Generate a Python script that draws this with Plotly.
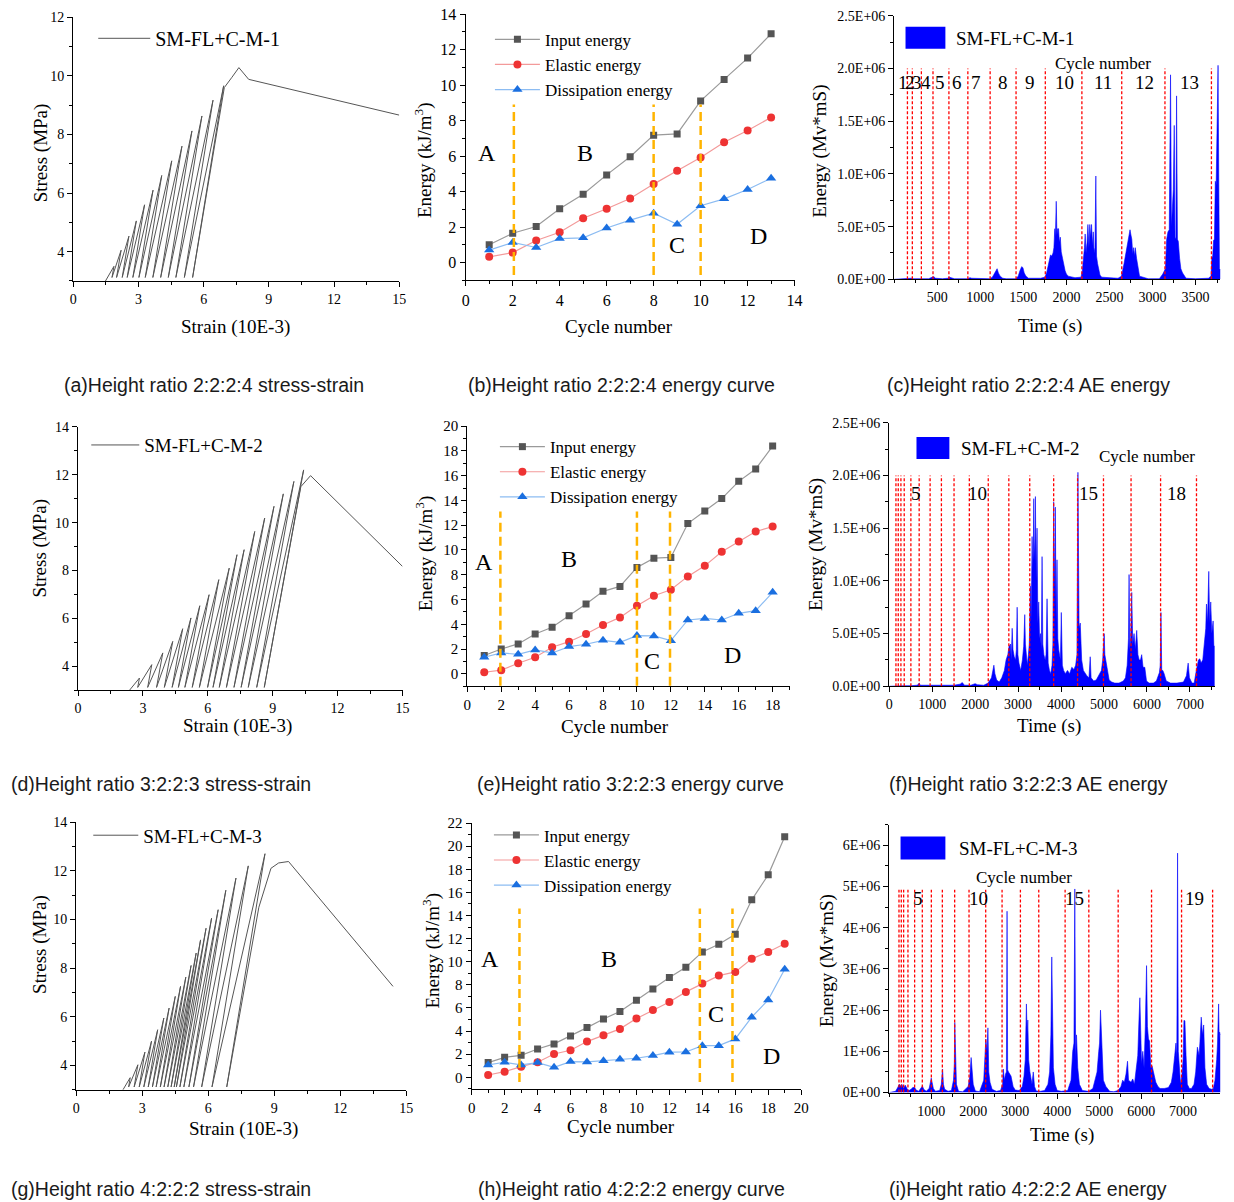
import numpy as np
import plotly.graph_objects as go

W, H = 1234, 1202
# small calibration of the photographed page (measured from previous renders)
AX, SX, AY, SY = 3.45, 0.9936, 7.2, 0.986
def fx(p): return ((p - AX) / SX) / W
def fy(p): return 1 - ((p - AY) / SY) / H

SERIF = "Liberation Serif, Times New Roman, serif"
CAP = "Liberation Sans Narrow, Arial Narrow, Liberation Sans, sans-serif"

# ---------------- stress-strain data (strain 10E-3, stress MPa) ----------------
ss1_valley = [1.48, 1.78, 1.99, 2.25, 2.48, 2.74, 3.02, 3.31, 3.66, 4.02, 4.37, 4.72, 5.11, 5.49]
ss1_peak_strain = [1.87, 2.2, 2.56, 2.9, 3.28, 3.67, 4.07, 4.53, 5.0, 5.46, 5.92, 6.43, 6.92]
ss1_peak_stress = [3.5, 4.05, 4.53, 5.05, 5.6, 6.1, 6.6, 7.1, 7.6, 8.12, 8.63, 9.17, 9.66]
ss1_tail_strain = [6.95, 7.3, 7.62, 8.07, 15.0]
ss1_tail_stress = [9.6, 9.95, 10.28, 9.88, 8.66]

ss2_valley = [2.38, 2.76, 3.22, 3.63, 3.99, 4.35, 4.64, 4.94, 5.28, 5.61, 5.99, 6.24, 6.53,
              6.86, 7.21, 7.54, 7.87, 8.26, 8.61]
ss2_peak_strain = [2.84, 3.41, 3.92, 4.38, 4.84, 5.22, 5.63, 6.06, 6.51, 6.99, 7.35, 7.68, 8.17,
                   8.63, 9.06, 9.49, 9.98, 10.43]
ss2_peak_stress = [3.51, 4.07, 4.56, 5.04, 5.57, 6.02, 6.53, 6.99, 7.62, 8.1, 8.66, 8.87, 9.63,
                   10.19, 10.68, 11.2, 11.72, 12.2]
ss2_tail_strain = [10.3, 10.75, 15.0]
ss2_tail_stress = [11.5, 11.96, 8.17]

ss3_valley = [2.12, 2.38, 2.63, 2.86, 3.07, 3.27, 3.46, 3.63, 3.82, 3.99, 4.16, 4.31, 4.45, 4.55,
              4.71, 4.89, 5.12, 5.33, 5.70, 6.17, 6.84]
ss3_peak_strain = [2.45, 2.8, 3.12, 3.42, 3.7, 3.98, 4.22, 4.5, 4.74, 4.98, 5.22, 5.45, 5.65, 5.9,
                   6.15, 6.45, 6.8, 7.26, 7.82, 8.58]
ss3_peak_stress = [3.5, 4.03, 4.55, 5.0, 5.47, 5.95, 6.36, 6.84, 7.25, 7.63, 8.11, 8.62, 9.16, 9.64,
                   10.05, 10.4, 11.2, 11.7, 12.2, 12.7]
ss3_tail_strain = [8.3, 8.85, 9.2, 9.65, 14.4]
ss3_tail_stress = [10.5, 12.1, 12.32, 12.38, 7.25]

# ---------------- energy curves (kJ/m3) ----------------
b_cycle = list(range(1, 14))
b_input = [1.0, 1.65, 2.03, 3.03, 3.85, 4.94, 5.96, 7.18, 7.25, 9.11, 10.32, 11.52, 12.89]
b_elastic = [0.32, 0.56, 1.24, 1.71, 2.5, 3.03, 3.61, 4.42, 5.17, 5.92, 6.78, 7.44, 8.18]
b_dissip = [0.7, 1.13, 0.85, 1.35, 1.39, 1.95, 2.39, 2.78, 2.16, 3.2, 3.59, 4.12, 4.75]
b_stage_x = [2.05, 8.0, 10.0]
stage_labels = ["A", "B", "C", "D"]
b_label_x = [0.92, 5.09, 8.98, 12.45]
b_label_y = [6.2, 6.2, 1.0, 1.5]

e_cycle = list(range(1, 19))
e_input = [1.48, 2.01, 2.42, 3.22, 3.76, 4.7, 5.64, 6.66, 7.06, 8.59, 9.34, 9.4, 12.13, 13.15,
           14.15, 15.54, 16.54, 18.39]
e_elastic = [0.13, 0.3, 0.86, 1.34, 2.15, 2.6, 3.22, 3.95, 4.56, 5.5, 6.31, 6.79, 7.87, 8.72,
             9.85, 10.68, 11.49, 11.89]
e_dissip = [1.34, 1.69, 1.58, 1.93, 1.69, 2.2, 2.39, 2.71, 2.55, 3.09, 3.06, 2.68, 4.35, 4.48,
            4.35, 4.89, 5.1, 6.58]
e_stage_x = [1.95, 10.0, 11.95]
e_label_x = [0.98, 5.97, 10.86, 15.66]
e_label_y = [9.0, 9.3, 1.07, 1.53]

h_cycle = list(range(1, 20))
h_input = [1.27, 1.73, 1.9, 2.45, 2.89, 3.58, 4.3, 5.05, 5.69, 6.67, 7.65, 8.63, 9.53, 10.85,
           11.52, 12.38, 15.36, 17.52, 20.81]
h_elastic = [0.2, 0.49, 0.92, 1.3, 2.02, 2.34, 3.09, 3.64, 4.19, 5.08, 5.83, 6.52, 7.39, 8.11,
             8.8, 9.12, 10.25, 10.85, 11.55]
h_dissip = [1.07, 1.3, 1.07, 1.27, 0.87, 1.36, 1.33, 1.44, 1.56, 1.65, 1.88, 2.17, 2.19, 2.74,
            2.74, 3.32, 5.2, 6.7, 9.35]
h_stage_x = [2.9, 13.85, 15.83]
h_label_x = [1.1, 8.35, 14.86, 18.19]
h_label_y = [10.2, 10.2, 5.5, 1.85]

# ---------------- AE energy (time s, energy in 1E+05 Mv*mS) ----------------
ae1_t = [0, 100, 150, 160, 200, 215, 300, 320, 400, 440, 460, 480,
         560, 620, 640, 660, 700, 850, 880, 900, 950, 1000,
         1110, 1140, 1160, 1180, 1195, 1210, 1230, 1260, 1300,
         1410, 1440, 1460, 1480, 1495, 1510, 1530, 1560, 1700,
         1750, 1770, 1790, 1805, 1815, 1830, 1845, 1855, 1865, 1872,
         1882, 1890, 1898, 1909, 1918, 1929, 1940, 1955, 1970, 1985, 2000, 2020,
         2100, 2170, 2185, 2200, 2210, 2218, 2228, 2240, 2250, 2262,
         2272, 2282, 2292, 2302, 2312, 2322, 2332, 2342, 2350, 2362, 2375, 2390, 2410,
         2500, 2520, 2600, 2640, 2655, 2670, 2685, 2700, 2712, 2725,
         2739, 2750, 2760, 2770, 2780, 2790, 2800, 2815, 2830, 2850, 2950,
         3080, 3120, 3150, 3165, 3180, 3195, 3210, 3220, 3232, 3242,
         3253, 3262, 3272, 3280, 3290, 3300, 3315, 3330, 3350, 3370, 3390,
         3500, 3650, 3680, 3690, 3700, 3710, 3720, 3730, 3740, 3750, 3762, 3770, 3778, 3790]
ae1_e = [0, 0.05, 0.1, 0.05, 0.1, 0.05, 0.05, 0.1, 0.05, 0.2, 0.25, 0.1,
         0.05, 0.1, 0.2, 0.15, 0.05, 0.05, 0.15, 0.1, 0.1, 0.05,
         0.05, 0.2, 0.5, 0.9, 1.0, 0.6, 0.3, 0.1, 0.05,
         0.05, 0.3, 0.8, 1.2, 1.1, 0.6, 0.3, 0.1, 0.1,
         0.2, 0.6, 1.5, 2.0, 2.3, 2.2, 2.5, 3.0, 4.8, 4.0,
         7.4, 4.2, 4.8, 4.8, 3.5, 4.0, 2.6, 2.0, 1.3, 0.8, 0.5, 0.3,
         0.15, 0.2, 0.8, 2.0, 3.0, 4.3, 2.5, 3.5, 5.2, 3.0,
         5.2, 4.0, 5.2, 3.2, 4.5, 2.5, 3.0, 9.8, 2.2, 1.5, 0.8, 0.4, 0.2,
         0.15, 0.2, 0.1, 0.3, 0.8, 1.5, 2.2, 2.8, 3.5, 4.0,
         4.7, 4.2, 3.8, 2.4, 3.0, 2.2, 3.0, 2.0, 1.3, 0.3, 0.05,
         0.05, 0.5, 1.0, 3.8, 4.5, 4.7, 19.4, 5.0, 7.0, 8.5,
         14.6, 4.0, 3.8, 17.4, 3.8, 3.6, 2.0, 1.0, 0.6, 0.3, 0.1,
         0.05, 0.1, 0.3, 2.0, 2.2, 3.7, 3.8, 9.3, 9.0, 13.0, 20.3, 10.0, 1.0, 0.9]
ae1_cycle_lines = [153, 210, 315, 450, 635, 855, 1114, 1415, 1755, 2180, 2643, 3145, 3685]
ae1_labels = ["1", "2", "3", "4", "5", "6", "7", "8", "9", "10", "11", "12", "13"]
ae1_label_t = [106, 187, 268, 365, 535, 732, 952, 1261, 1581, 1979, 2423, 2905, 3434]

ae2_t = [0, 150, 300, 500, 650, 700, 720, 900, 1200, 1500, 1650, 1700, 1750,
         1900, 2000, 2050, 2200, 2300, 2380, 2420, 2436, 2460, 2500, 2560,
         2620, 2680, 2720, 2760, 2790, 2823, 2840, 2862, 2880, 2910, 2940, 2960, 2978, 2995, 3020,
         3060, 3100, 3130, 3155, 3170, 3190, 3215, 3240, 3260, 3287, 3300, 3315, 3326, 3340,
         3355, 3364, 3380, 3395, 3403, 3420, 3441,
         3460, 3480, 3500, 3520, 3540, 3558, 3575, 3600, 3630, 3650, 3674, 3700, 3730, 3760, 3790,
         3810, 3828, 3845, 3867, 3885, 3906, 3925, 3945, 3965, 3985, 4006, 4030, 4060, 4100,
         4150, 4200, 4250, 4300, 4340, 4370, 4393, 4405, 4420, 4447, 4480, 4520, 4560, 4600,
         4650, 4679, 4700, 4760, 4820, 4880, 4940,
         4970, 4990, 5004, 5020, 5040, 5060, 5090, 5120, 5180, 5250, 5350, 5450, 5500,
         5540, 5570, 5584, 5600, 5620, 5646, 5670, 5700, 5730, 5762, 5790, 5820, 5850, 5878,
         5910, 5950, 5990, 6050,
         6150, 6220, 6260, 6290, 6310, 6326, 6345, 6370, 6400, 6450, 6550, 6700, 6850, 6920,
         6960, 6990, 7050,
         7100, 7150, 7200, 7231, 7260, 7300, 7340, 7370, 7386, 7410, 7440, 7460, 7486, 7510,
         7541, 7560, 7580]
ae2_e = [0, 0.05, 0.05, 0.05, 0.1, 0.3, 0.1, 0.1, 0.1, 0.1, 0.2, 0.35, 0.1,
         0.1, 0.25, 0.15, 0.1, 0.3, 0.8, 1.5, 2.0, 1.2, 0.6, 0.4,
         0.8, 1.5, 2.5, 3.0, 3.8, 4.0, 2.5, 5.5, 3.5, 2.8, 2.5, 3.5, 7.5, 3.0, 2.2,
         1.5, 2.5, 3.8, 6.8, 4.0, 3.0, 2.0, 3.0, 4.0, 9.5, 6.0, 10.0, 14.2, 11.0,
         13.0, 17.8, 12.0, 14.0, 18.0, 10.0, 15.0,
         6.0, 8.0, 4.5, 5.0, 3.5, 12.3, 4.0, 3.0, 2.5, 3.0, 8.3, 2.2, 1.5, 1.2, 2.0,
         4.0, 17.5, 9.0, 17.0, 6.0, 12.0, 4.5, 3.5, 3.0, 2.5, 7.0, 2.0, 1.5, 1.2,
         1.5, 1.2, 1.8, 1.6, 2.0, 3.0, 20.3, 6.0, 5.5, 6.0, 2.5, 1.5, 1.2, 1.0,
         0.8, 2.8, 0.8, 0.5, 0.6, 1.0, 1.5,
         2.5, 3.5, 5.0, 3.0, 2.5, 2.0, 1.2, 0.6, 0.4, 0.3, 0.3, 0.5, 0.8,
         2.0, 4.5, 10.6, 3.5, 4.5, 8.9, 4.0, 5.0, 3.5, 5.3, 3.0, 2.5, 2.5, 3.0,
         1.8, 1.8, 0.5, 0.3,
         0.3, 0.5, 1.0, 1.3, 2.0, 7.0, 1.5, 1.5, 1.2, 0.5, 0.3, 0.3, 0.4, 1.0,
         2.2, 0.8, 0.3,
         0.3, 1.5, 2.5, 2.6, 2.2, 2.5, 4.5, 5.5, 7.8, 6.0, 10.9, 6.0, 8.0, 5.0,
         6.2, 3.8, 3.8]
ae2_cycle_lines = [155, 209, 271, 348, 503, 696, 951, 1214, 1508, 1864, 2305, 2784, 3271,
                   3828, 4385, 4988, 5630, 6318, 7154]
ae2_labels = ["5", "10", "15", "18"]
ae2_label_t = [619, 2049, 4640, 6690]

ae3_t = [0, 150, 200, 240, 280, 300, 340, 380, 430, 470, 520, 560, 600, 640, 700, 760, 790, 820, 880,
         950, 980, 1000, 1020, 1050, 1100, 1200, 1240, 1270, 1290, 1320, 1400, 1480, 1530, 1550,
         1560, 1575, 1600, 1650,
         1750, 1880, 1920, 1950, 1975, 2000, 2050, 2150, 2250, 2300, 2330, 2350, 2370, 2400, 2450, 2550,
         2650, 2700, 2718, 2740, 2770, 2790, 2806, 2820, 2840, 2870, 2900, 2950, 3000, 3100,
         3170, 3210, 3240, 3267, 3285, 3300, 3320, 3350, 3400, 3430, 3460, 3500, 3600, 3700,
         3780, 3820, 3850, 3871, 3890, 3910, 3950, 4000,
         4100, 4250, 4330, 4370, 4400, 4420, 4440, 4460, 4490, 4530, 4600, 4750, 4850, 4950,
         4990, 5010, 5032, 5050, 5070, 5100, 5160, 5250,
         5350, 5450, 5520, 5560, 5600, 5640, 5676, 5700, 5760, 5800, 5840, 5880, 5920, 5950,
         5970, 5990, 6010, 6040,
         6070, 6100, 6129, 6150, 6175, 6200, 6230, 6260, 6300, 6350, 6400, 6450, 6550, 6650,
         6720, 6760, 6800, 6830, 6850, 6868, 6885, 6910,
         6940, 6970, 7000, 7020, 7043, 7070, 7100, 7150, 7200, 7260, 7300, 7340, 7380, 7400,
         7432, 7460, 7490, 7520, 7560, 7620, 7680,
         7720, 7760, 7800, 7820, 7846, 7860, 7870, 7890]
ae3_e = [0, 0.3, 1.2, 2.0, 1.5, 2.0, 1.0, 1.8, 0.8, 0.5, 0.8, 1.2, 1.3, 0.6, 0.3, 1.0, 1.6, 0.8, 0.3,
         1.0, 2.5, 3.5, 2.5, 1.0, 0.3, 0.5, 2.0, 5.7, 2.0, 0.8, 0.3, 0.5, 3.0, 7.0,
         17.0, 7.0, 2.0, 0.3,
         0.2, 1.5, 4.0, 8.5, 4.0, 2.0, 0.4, 0.2, 3.0, 13.0, 10.0, 15.7, 5.0, 2.5, 0.8, 0.3,
         0.5, 2.0, 5.7, 3.0, 4.5, 5.0, 44.0, 5.5, 5.0, 4.5, 4.0, 1.5, 0.6, 0.5,
         1.5, 4.0, 8.0, 21.5, 14.0, 17.6, 8.0, 5.0, 2.0, 5.0, 1.5, 0.4, 0.3, 0.5,
         2.0, 5.0, 14.0, 32.9, 14.0, 6.0, 2.0, 0.5,
         0.3, 0.5, 3.0, 10.0, 12.0, 49.4, 8.0, 14.0, 6.0, 2.0, 0.5, 0.3, 1.0, 5.0,
         10.0, 12.0, 20.0, 15.0, 8.0, 3.0, 1.5, 0.3,
         0.2, 0.5, 1.5, 3.0, 2.5, 4.5, 7.6, 3.0, 2.5, 3.3, 2.0, 5.0, 9.0, 18.0,
         23.0, 15.0, 7.0, 10.0,
         6.0, 16.0, 30.8, 16.0, 13.0, 12.5, 6.0, 6.5, 5.0, 2.5, 1.5, 1.0, 1.0, 1.2,
         2.5, 5.0, 9.0, 12.0, 8.0, 58.1, 10.0, 5.0,
         2.0, 4.0, 8.0, 17.5, 17.4, 9.0, 2.0, 1.0, 1.0, 2.0, 5.0, 11.0, 9.0, 12.0,
         18.3, 14.0, 16.4, 6.0, 2.0, 1.0, 0.8,
         1.0, 3.0, 8.0, 12.0, 21.5, 13.0, 14.7, 14.0]
ae3_cycle_lines = [231, 286, 342, 445, 604, 787, 1002, 1264, 1558, 1900, 2297, 2687, 3124,
                   3561, 4189, 4754, 5453, 6248, 6963, 7703]
ae3_labels = ["5", "10", "15", "19"]
ae3_label_t = [684, 2114, 4420, 7281]

ae_tick_vals_12 = [0, 5e5, 1e6, 1.5e6, 2e6, 2.5e6]
ae_tick_text_12 = ["0.0E+00", "5.0E+05", "1.0E+06", "1.5E+06", "2.0E+06", "2.5E+06"]
ae_tick_vals_3 = [0, 1e6, 2e6, 3e6, 4e6, 5e6, 6e6]
ae_tick_text_3 = ["0E+00", "1E+06", "2E+06", "3E+06", "4E+06", "5E+06", "6E+06"]

specimens = ["SM-FL+C-M-1", "SM-FL+C-M-2", "SM-FL+C-M-3"]
captions = ["(a)Height ratio 2:2:2:4 stress-strain", "(b)Height ratio 2:2:2:4 energy curve",
            "(c)Height ratio 2:2:2:4 AE energy",
            "(d)Height ratio 3:2:2:3 stress-strain", "(e)Height ratio 3:2:2:3 energy curve",
            "(f)Height ratio 3:2:2:3 AE energy",
            "(g)Height ratio 4:2:2:2 stress-strain", "(h)Height ratio 4:2:2:2 energy curve",
            "(i)Height ratio 4:2:2:2 AE energy"]

# ---------------- layout geometry (target screen pixels) ----------------
boxes = {1: (73, 400, 16.4, 280), 2: (466.7, 796.7, 13.3, 279.3), 3: (896.7, 1224, 15, 278.3),
         4: (77.7, 403.3, 425.7, 689), 5: (468.3, 791.7, 425, 685), 6: (891.7, 1218.3, 421.7, 685),
         7: (76, 407, 820.7, 1088.3), 8: (472.7, 803.3, 821.7, 1087.3), 9: (891.7, 1224, 823.3, 1091)}

fig = go.Figure()

def sfx(i):
    return "" if i == 1 else str(i)

def base_axis(size):
    return dict(showline=True, linecolor="black", linewidth=1.3, ticks="outside", ticklen=5,
                tickwidth=1.2, tickcolor="black", showgrid=False, zeroline=False,
                tickfont=dict(family=SERIF, size=size, color="black"))

def set_axes(i, xr, yr, xt, xminor, yt, ymin, yt_text=None, fsize=14):
    l, r, t, b = boxes[i]
    s = sfx(i)
    xa = base_axis(fsize)
    xa.update(domain=[max(0, fx(l)), min(1, fx(r))], range=xr, anchor="y" + s, tickmode="array",
              tickvals=xt,
              minor=dict(dtick=xminor, ticks="outside", ticklen=3, tickcolor="black", tickwidth=1))
    ya = base_axis(fsize)
    ya.update(domain=[max(0, fy(b)), min(1, fy(t))], range=yr, anchor="x" + s, tickmode="array",
              tickvals=yt,
              minor=dict(dtick=ymin, ticks="outside", ticklen=3, tickcolor="black", tickwidth=1))
    if yt_text is not None:
        ya["ticktext"] = yt_text
    fig.update_layout(**{"xaxis" + s: xa, "yaxis" + s: ya})

set_axes(1, [0, 15], [3, 12], [0, 3, 6, 9, 12, 15], 1.5, [4, 6, 8, 10, 12], 1)
set_axes(4, [0, 15], [3, 14], [0, 3, 6, 9, 12, 15], 1.5, [4, 6, 8, 10, 12, 14], 1)
set_axes(7, [0, 15], [3, 14], [0, 3, 6, 9, 12, 15], 1.5, [4, 6, 8, 10, 12, 14], 1)
set_axes(2, [0, 14], [-1, 14], list(range(0, 15, 2)), 1, list(range(0, 15, 2)), 1, fsize=16)
set_axes(5, [0, 19], [-1, 20], list(range(0, 19, 2)), 1, list(range(0, 21, 2)), 1, fsize=15)
set_axes(8, [0, 20], [-1, 22], list(range(0, 21, 2)), 1, list(range(0, 23, 2)), 1, fsize=15)
set_axes(3, [0, 3790], [0, 2.5e6], list(range(500, 3501, 500)), 250, ae_tick_vals_12, 2.5e5,
         yt_text=ae_tick_text_12, fsize=14)
set_axes(6, [0, 7580], [0, 2.5e6], list(range(0, 7001, 1000)), 500, ae_tick_vals_12, 2.5e5,
         yt_text=ae_tick_text_12, fsize=14)
set_axes(9, [0, 7890], [0, 6.5e6], list(range(1000, 7001, 1000)), 500, ae_tick_vals_3, 5e5,
         yt_text=ae_tick_text_3, fsize=14)

# ---------------- stress-strain traces (valley -> peak -> valley zig-zag) ----------------
def ss_path(valley, pk_x, pk_y, tail_x, tail_y, start_y=3.0, base_y=3.12):
    xs, ys = [valley[0]], [start_y]
    for k in range(len(pk_x)):
        xs.append(pk_x[k]); ys.append(pk_y[k])
        xs.append(valley[k + 1]); ys.append(base_y)
    return xs + list(tail_x), ys + list(tail_y)

ss_sets = [(1, "legend", ss1_valley, ss1_peak_strain, ss1_peak_stress, ss1_tail_strain, ss1_tail_stress),
           (4, "legend3", ss2_valley, ss2_peak_strain, ss2_peak_stress, ss2_tail_strain, ss2_tail_stress),
           (7, "legend5", ss3_valley, ss3_peak_strain, ss3_peak_stress, ss3_tail_strain, ss3_tail_stress)]
for n, (i, lg, v, px_, py_, tx, ty) in enumerate(ss_sets):
    xs, ys = ss_path(v, px_, py_, tx, ty)
    fig.add_trace(go.Scatter(x=xs, y=ys, mode="lines", name=specimens[n], legend=lg,
                             line=dict(color="#555555", width=1),
                             xaxis="x" + sfx(i), yaxis="y" + sfx(i)))

# ---------------- energy traces ----------------
series_style = [("Input energy", "#9a9a9a", "#555555", "square", 7),
                ("Elastic energy", "#f39a9a", "#ee3333", "circle", 8),
                ("Dissipation energy", "#8cbcf2", "#1a6fe0", "triangle-up", 9)]
en_sets = [(2, "legend2", b_cycle, [b_input, b_elastic, b_dissip], b_stage_x, 8.9, -0.7,
            b_label_x, b_label_y),
           (5, "legend4", e_cycle, [e_input, e_elastic, e_dissip], e_stage_x, 13.1, -0.95,
            e_label_x, e_label_y),
           (8, "legend6", h_cycle, [h_input, h_elastic, h_dissip], h_stage_x, 14.6, -0.4,
            h_label_x, h_label_y)]
for (i, lg, cyc, ser, stx, top, bot, lx, ly) in en_sets:
    s = sfx(i)
    for (name, lc, mc, sym, ms), vals in zip(series_style, ser):
        fig.add_trace(go.Scatter(x=cyc, y=vals, mode="lines+markers", name=name, legend=lg,
                                 line=dict(color=lc, width=1.2),
                                 marker=dict(color=mc, symbol=sym, size=ms),
                                 xaxis="x" + s, yaxis="y" + s))
    for xv in stx:
        fig.add_shape(type="line", xref="x" + s, yref="y" + s, x0=xv, x1=xv, y0=bot, y1=top,
                      line=dict(color="#ffb400", width=2.5, dash="9px,5px"))
    for txt, xx, yy in zip(stage_labels, lx, ly):
        fig.add_annotation(x=xx, y=yy, xref="x" + s, yref="y" + s, text=txt, showarrow=False,
                           xanchor="center", yanchor="middle",
                           font=dict(family=SERIF, size=24, color="black"))

# ---------------- AE traces ----------------
ae_sets = [(3, ae1_t, ae1_e, ae1_cycle_lines, 2.0e6, ae1_labels, ae1_label_t, 1.87e6, 2430, 2.05e6,
            (908, 948, 26, 48), 957, 38),
           (6, ae2_t, ae2_e, ae2_cycle_lines, 2.0e6, ae2_labels, ae2_label_t, 1.83e6, 6009, 2.18e6,
            (919, 952, 436, 458), 962, 447),
           (9, ae3_t, ae3_e, ae3_cycle_lines, 4.92e6, ae3_labels, ae3_label_t, 4.7e6, 3211, 5.23e6,
            (903, 948, 835, 858), 960, 847)]
for n, (i, t, e, cl, ctop, labs, labt, laby, cnx, cny, sw, tx0, tyc) in enumerate(ae_sets):
    s = sfx(i)
    fig.add_trace(go.Scatter(x=t, y=np.array(e) * 1e5, mode="lines", fill="tozeroy",
                             line=dict(color="#0000ff", width=0.6), fillcolor="#0000ff",
                             showlegend=False, xaxis="x" + s, yaxis="y" + s))
    for tv in cl:
        fig.add_shape(type="line", xref="x" + s, yref="y" + s, x0=tv, x1=tv, y0=0, y1=ctop,
                      line=dict(color="#ff0000", width=1.3, dash="3px,2px"))
    for lab, tt in zip(labs, labt):
        fig.add_annotation(x=tt, y=laby, xref="x" + s, yref="y" + s, text=lab, showarrow=False,
                           xanchor="center", yanchor="middle",
                           font=dict(family=SERIF, size=19, color="black"))
    fig.add_annotation(x=cnx, y=cny, xref="x" + s, yref="y" + s, text="Cycle number",
                       showarrow=False, xanchor="center", yanchor="middle",
                       font=dict(family=SERIF, size=17, color="black"))
    fig.add_shape(type="rect", xref="paper", yref="paper", x0=fx(sw[0]), x1=fx(sw[1]),
                  y0=fy(sw[3]), y1=fy(sw[2]), fillcolor="#0000ff", line=dict(width=0))
    fig.add_annotation(x=fx(tx0), y=fy(tyc), xref="paper", yref="paper", xanchor="left",
                       yanchor="middle", text=specimens[n], showarrow=False,
                       font=dict(family=SERIF, size=19, color="black"))

# ---------------- axis titles ----------------
def title(x, y, text, angle=0, size=19):
    fig.add_annotation(x=fx(x), y=fy(y), xref="paper", yref="paper", text=text, showarrow=False,
                       xanchor="center", yanchor="middle", textangle=angle,
                       font=dict(family=SERIF, size=size, color="black"))

ytitles = [(40, 152, "Stress (MPa)"), (425, 159, "Energy (kJ/m<sup>3</sup>)"), (822, 150, "Energy (Mv*mS)"),
           (40, 547, "Stress (MPa)"), (425, 552, "Energy (kJ/m<sup>3</sup>)"), (818, 543, "Energy (Mv*mS)"),
           (40, 943, "Stress (MPa)"), (432, 949, "Energy (kJ/m<sup>3</sup>)"), (830, 959, "Energy (Mv*mS)")]
xtitles = [(236, 326, "Strain (10E-3)"), (621, 325, "Cycle number"), (1053, 325, "Time (s)"),
           (238, 725, "Strain (10E-3)"), (617, 725, "Cycle number"), (1052, 725, "Time (s)"),
           (244, 1127, "Strain (10E-3)"), (623, 1125, "Cycle number"), (1065, 1133, "Time (s)")]
for x, y, t in ytitles:
    title(x, y, t, angle=-90)
for x, y, t in xtitles:
    title(x, y, t)

cap_pos = [(214, 384), (623, 384), (1031, 384), (161, 783), (632, 783), (1031, 783),
           (161, 1187), (633, 1187), (1031, 1187)]
for (x, y), c in zip(cap_pos, captions):
    fig.add_annotation(x=fx(x), y=fy(y), xref="paper", yref="paper", text=c, showarrow=False,
                       xanchor="center", yanchor="middle",
                       font=dict(family=CAP, size=19.5, color="#1a1a1a"))

# ---------------- legends ----------------
def leg(x, y, size, iw):
    return dict(x=fx(x), y=fy(y), xanchor="left", yanchor="top", bgcolor="rgba(0,0,0,0)",
                borderwidth=0, font=dict(family=SERIF, size=size, color="black"),
                itemwidth=iw, tracegroupgap=0)

fig.update_layout(
    width=W, height=H, margin=dict(l=0, r=0, t=0, b=0),
    paper_bgcolor="white", plot_bgcolor="white", showlegend=True, hovermode=False,
    legend=leg(93, 18, 20, 52), legend3=leg(86, 425, 19, 48), legend5=leg(88, 815, 19, 45),
    legend2=leg(491, 21, 17, 45), legend4=leg(496, 428, 17, 45), legend6=leg(490, 816, 17, 45),
)

fig.write_html(
    "out.html",
    config={"displayModeBar": False},
    post_script=("document.documentElement.style.margin='0';document.documentElement.style.padding='0';"
                 "document.body.style.margin='0';document.body.style.padding='0';"
                 "document.body.style.overflow='hidden';"),
)
